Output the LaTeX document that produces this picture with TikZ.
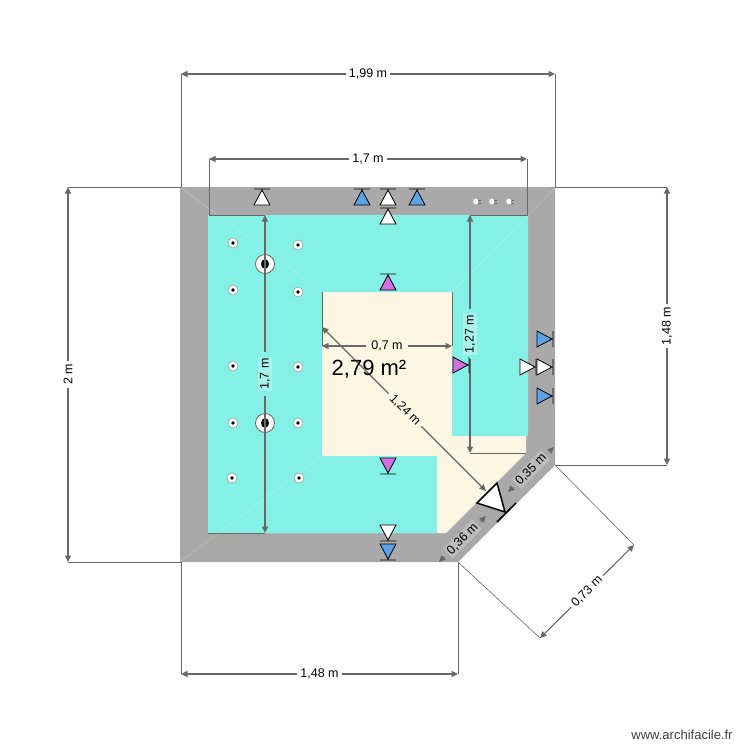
\documentclass[tikz,border=0pt]{standalone}
\usepackage{fontspec}
\setmainfont{Liberation Sans}
\usetikzlibrary{arrows.meta,shapes.geometric}
\definecolor{wallc}{HTML}{A9A9A9}
\definecolor{walll}{HTML}{BCBCBC}
\definecolor{cyanf}{HTML}{84F0E6}
\definecolor{cyanl}{HTML}{A8F4EC}
\definecolor{creamf}{HTML}{FDF6E3}
\definecolor{dimc}{HTML}{686868}
\definecolor{bluet}{HTML}{5BA3E6}
\definecolor{pinkt}{HTML}{D36FE0}
\tikzset{
  x=1pt,y=-1pt,
  extline/.style={draw=dimc,line width=.6pt},
  dimline/.style={draw=dimc,line width=1.1pt,{Triangle[length=6.5pt,width=6pt]}-{Triangle[length=6.5pt,width=6pt]}},
  gapbox/.style={fill=#1,minimum height=7pt,inner sep=0pt},
  dimlabel/.style={font=\fontsize{12.5}{12.5}\selectfont,inner sep=1.5pt,fill=#1},
  whitelabel/.style={font=\fontsize{12.5}{12.5}\selectfont,inner sep=3pt,fill=white},
  sym/.style={draw=black,line width=.8pt},
  spot/.style={circle,draw=dimc!80,fill=white,line width=.4pt,minimum size=10pt,inner sep=0pt},
  bigspot/.style={circle,draw=dimc,fill=white,line width=.8pt,minimum size=19pt,inner sep=0pt},
  dotc/.style={circle,fill=black,minimum size=3.8pt,inner sep=0pt},
  bigdot/.style={ellipse,fill=black,minimum width=8pt,minimum height=9.5pt,inner sep=0pt},
}
\begin{document}
\begin{tikzpicture}
\useasboundingbox (0,0) rectangle (750,750);
\fill[white] (0,0) rectangle (750,750);
% walls
\fill[wallc] (180,187)--(555,187)--(555,465)--(458,562)--(180,562)--cycle;
\fill[creamf] (208,215)--(526,215)--(526,453)--(446,533)--(208,533)--cycle;
\fill[cyanf] (208,215)--(528,215)--(528,436)--(452,436)--(452,292)--(322,292)--(322,456)--(437,456)--(437,533)--(208,533)--cycle;
% faint mitres
\draw[white,opacity=.25,line width=.5pt] (181,188)--(322,292) (555,188)--(452,292) (181,561)--(322,456);
% extension lines
\coordinate (ea1) at (181,74); \coordinate (ea2) at (181,187);
\coordinate (eb1) at (555,74); \coordinate (eb2) at (555,187);
\draw[extline] (ea1)--(ea2) (eb1)--(eb2);
\draw[extline] (209,159)--(209,215)--(265,215) (527,159)--(527,215)--(470,215);
\draw[extline] (68,187)--(181,187) (68,562)--(181,562);
\draw[extline] (555,187)--(667,187) (555,465)--(667,465);
\draw[extline] (181,562)--(181,674) (458,562)--(458,674);
\draw[extline] (555,465)--(634,545) (458,562)--(540,638);
\draw[extline] (322,292)--(322,346) (452,292)--(452,346);
\draw[extline] (470,453)--(526,453);
\draw[extline] (208,533)--(265,533);
% dimension lines
\draw[dimline] (181,74)--(555,74) node[midway,whitelabel]{1,99 m};
\draw[dimline] (209,159)--(527,159) node[midway,whitelabel]{1,7 m};
\draw[dimline] (68,187)--(68,562) node[midway,whitelabel,rotate=90]{2 m};
\draw[dimline] (667,187)--(667,465) node[midway,whitelabel,rotate=90]{1,48 m};
\draw[dimline] (181,674)--(458,674) node[midway,whitelabel]{1,48 m};
\draw[dimline] (540,638)--(634,545) node[midway,whitelabel,rotate=45]{0,73 m};
\draw[dimline] (265,215)--(265,533)
  node[midway,gapbox=cyanf,minimum width=44pt,rotate=90]{}
  node[midway,dimlabel=cyanl,rotate=90]{1,7 m};
\draw[dimline] (470,215)--(470,453)
  node[midway,gapbox=cyanf,minimum width=50pt,rotate=90]{}
  node[midway,dimlabel=cyanl,rotate=90]{1,27 m};
\draw[dimline] (322,346)--(452,346);
\node[font=\fontsize{12.5}{12.5}\selectfont,fill=creamf,inner sep=5pt] (l07) at (387,346) {0,7 m};
\draw[dimline] (322,327)--(486,491);
\node[font=\fontsize{12.5}{12.5}\selectfont,fill=creamf,inner sep=4pt,rotate=-45] (l124) at (405,410) {1,24 m};
\draw[dimline] (508,492)--(554,447)
  node[midway,gapbox=wallc,minimum width=50pt,rotate=45]{}
  node[midway,dimlabel=walll,rotate=45]{0,35 m};
\draw[dimline] (439,562)--(486,516)
  node[midway,gapbox=wallc,minimum width=50pt,rotate=45]{}
  node[midway,dimlabel=walll,rotate=45]{0,36 m};
% top symbols
\foreach \x/\y/\c in {262/189/white,362/189/bluet,388/189/white,417/189/bluet,388/208/white,388/274/pinkt}{
  \fill[\c] (\x,\y+1)--(\x+8,\y+16)--(\x-8,\y+16)--cycle;
  \draw[sym] (\x,\y+1)--(\x+8,\y+16)--(\x-8,\y+16)--cycle (\x-8,\y)--(\x+8,\y);
}
% down symbols
\foreach \x/\y/\c in {388/474/pinkt,388/541/white,388/560/bluet}{
  \fill[\c] (\x,\y-1)--(\x+8,\y-16)--(\x-8,\y-16)--cycle;
  \draw[sym] (\x,\y-1)--(\x+8,\y-16)--(\x-8,\y-16)--cycle (\x-8,\y)--(\x+8,\y);
}
% right symbols
\foreach \x/\y/\c in {469/365/pinkt,553/339/bluet,536/367/white,553/367/white,553/396/bluet}{
  \fill[\c] (\x-1,\y)--(\x-16,\y-8)--(\x-16,\y+8)--cycle;
  \draw[sym] (\x-1,\y)--(\x-16,\y-8)--(\x-16,\y+8)--cycle (\x,\y-8)--(\x,\y+8);
}
% door
\fill[white] (497,483)--(477,503)--(505,512)--cycle;
\draw[black,line width=1.5pt] (497,483)--(477,503)--(505,512)--cycle (497,522)--(516,503);
% plugs
\foreach \x in {477,493,510}{
  \fill[white] (\x-1,201.5) circle[radius=2.8];
  \fill[dimc!70] (\x+1,198)rectangle(\x+2,205);
  \draw[dimc,line width=.5pt] (\x+2,200)--(\x+4,200) (\x+2,203)--(\x+4,203);
}
% spots
\foreach \p/\q [count=\i] in {233/243,298/245,233/290,298/292,233/366,298/367,233/423,298/423,232/478,299/478}{
  \node[spot] (s\i) at (\p,\q) {};
  \node[dotc] at (s\i) {};
}
\node[bigspot] (b1) at (265,264) {}; \node[bigdot] at (b1) {};
\node[bigspot] (b2) at (265,423) {}; \node[bigdot] at (b2) {};
\draw[dimc,line width=1.1pt] (265,255)--(265,273) (265,414)--(265,432);
% texts
\node[font=\fontsize{22}{22}\selectfont] (area) at (369,369) {2,79 m²};
\node[font=\fontsize{13}{13}\selectfont,text=black!75] (wm) at (682,735) {www.archifacile.fr};
\end{tikzpicture}
\end{document}
